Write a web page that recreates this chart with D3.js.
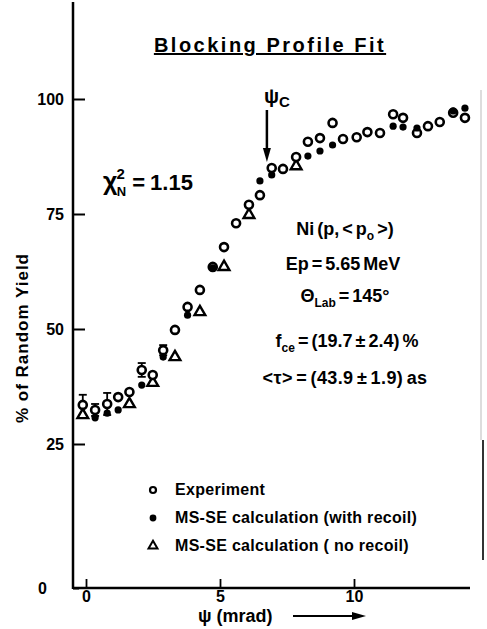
<!DOCTYPE html>
<html>
<head>
<meta charset="utf-8">
<script src="https://cdn.jsdelivr.net/npm/d3@7"></script>
<style>
  body { margin: 0; background: #fff; }
  svg { display: block; }
  text { font-family: "Liberation Sans", Arial, sans-serif; font-weight: bold; fill: #000; }
</style>
</head>
<body>
<svg id="chart" width="487" height="629"></svg>
<script>
// values
let expPsi   = [-0.12,0.34,0.79,1.2,1.62,2.08,2.49,2.88,3.32,3.79,4.25,4.73,5.15,5.6,6.08,6.49,6.93,7.35,7.84,8.28,8.73,9.2,9.59,10.1,10.5,10.97,11.46,11.83,12.35,12.76,13.2,13.7,14.14]
let expYield = [33.5,32.4,33.7,35.2,36.3,41.1,40.0,45.4,49.8,54.8,58.5,63.5,67.8,73.0,77.0,79.1,85.0,84.8,87.4,90.7,91.5,94.8,91.3,91.7,92.8,92.6,96.7,95.9,92.6,94.1,95.0,97.0,95.9]
let expErr   = [2.2,1.3,2.4,0,0,1.5,0,1.1,0,0,0,0,0,0,0,0,0,0,0,0,0,0,0,0,0,0,0,0,0,0,0,0,0]

let withPsi   = [0.34,0.79,1.2,2.08,2.88,3.79,4.73,6.49,6.93,8.28,8.73,9.2,11.46,11.83,12.35,13.7,14.14]
let withYield = [30.7,31.7,32.4,37.8,43.9,53.0,63.3,82.2,83.5,87.6,88.7,90.0,94.1,93.9,93.7,97.4,98.0]

let noPsi   = [-0.12,1.62,2.49,3.32,4.25,5.15,6.08,7.84]
let noYield = [31.3,33.7,38.3,43.9,53.7,63.5,74.8,85.4]

let psiC = 6.75
let yTicks = [0, 25, 50, 75, 100]
let xTicks = [0, 5, 10]

let svg = d3.select("#chart")

// y axis has a squeezed bottom (0 sits lower than linear)
let y = d3.scaleLinear().domain([0, 25, 100]).range([588, 444, 99])
let x = d3.scaleLinear().domain([0, 10]).range([86, 354])

// axis lines
svg.append("line").attr("x1", 73).attr("x2", 73).attr("y1", 2).attr("y2", y(0) + 1)
  .attr("stroke", "#000").attr("stroke-width", 2.5)
svg.append("line").attr("x1", 73).attr("x2", 470).attr("y1", y(0)).attr("y2", y(0))
  .attr("stroke", "#000").attr("stroke-width", 2.5)

let yAxis = svg.append("g").attr("transform", "translate(73,0)")
  .call(d3.axisLeft(y).tickValues(yTicks).tickSize(-12).tickPadding(9).tickFormat(d3.format("d")))
yAxis.select(".domain").remove()
yAxis.selectAll("line").attr("stroke-width", 2)
yAxis.selectAll("text").style("font-size", "16px")
// the zero label sits further out
yAxis.selectAll(".tick").filter(d => d == 0).select("text").attr("x", -26)
yAxis.selectAll(".tick").filter(d => d == 0).select("line").attr("x2", 6)

let xAxis = svg.append("g").attr("transform", "translate(0," + y(0) + ")")
  .call(d3.axisBottom(x).tickValues(xTicks).tickSize(-9).tickPadding(3).tickFormat(d3.format("d")))
xAxis.select(".domain").remove()
xAxis.selectAll("line").attr("stroke-width", 1.8)
xAxis.selectAll("text").style("font-size", "16px")

// faint scan edge on the right
svg.append("line").attr("x1", 481).attr("x2", 481).attr("y1", 90).attr("y2", 440)
  .attr("stroke", "#ddd").attr("stroke-width", 2)
svg.append("line").attr("x1", 483).attr("x2", 483).attr("y1", 440).attr("y2", 560)
  .attr("stroke", "#333").attr("stroke-width", 2)

// error bars
let eb = svg.append("g").attr("stroke", "#000").attr("stroke-width", 1.8)
expPsi.forEach(function(p, i){
  if(expErr[i] > 0){
    let cx = x(p)
    eb.append("line").attr("x1", cx).attr("x2", cx).attr("y1", y(expYield[i] + expErr[i])).attr("y2", y(expYield[i] - expErr[i]))
    eb.append("line").attr("x1", cx - 4).attr("x2", cx + 4).attr("y1", y(expYield[i] + expErr[i])).attr("y2", y(expYield[i] + expErr[i]))
    eb.append("line").attr("x1", cx - 4).attr("x2", cx + 4).attr("y1", y(expYield[i] - expErr[i])).attr("y2", y(expYield[i] - expErr[i]))
  }
})

// no recoil triangles
let tri = d3.symbol().type(d3.symbolTriangle).size(50)
svg.append("g").selectAll("path").data(noPsi).join("path")
  .attr("d", tri)
  .attr("transform", (d, i) => "translate(" + x(d) + "," + y(noYield[i]) + ")")
  .attr("fill", "#fff").attr("stroke", "#000").attr("stroke-width", 2.4)

// experiment open circles
svg.append("g").selectAll("circle").data(expPsi).join("circle")
  .attr("cx", d => x(d)).attr("cy", (d, i) => y(expYield[i])).attr("r", 4)
  .attr("fill", "#fff").attr("stroke", "#000").attr("stroke-width", 2.6)

// with recoil filled dots
svg.append("g").selectAll("circle").data(withPsi).join("circle")
  .attr("cx", d => x(d)).attr("cy", (d, i) => y(withYield[i])).attr("r", 3.6)
  .attr("fill", "#000")

// psi_c arrow
let ax = x(psiC)
svg.append("line").attr("x1", ax).attr("x2", ax).attr("y1", 110).attr("y2", 150)
  .attr("stroke", "#000").attr("stroke-width", 2.5)
svg.append("path").attr("d", "M" + (ax - 4) + ",148 L" + (ax + 4) + ",148 L" + ax + ",162 Z").attr("fill", "#000")
let pc = svg.append("text").attr("x", ax - 3).attr("y", 103).style("font-size", "20px")
pc.append("tspan").text("ψ")
pc.append("tspan").attr("dy", 4).style("font-size", "15px").text("C")

// title
svg.append("text").attr("x", 270).attr("y", 52).attr("text-anchor", "middle")
  .style("font-size", "20px").style("letter-spacing", "2.5px").style("text-decoration", "underline")
  .text("Blocking Profile Fit")

// y label
svg.append("text").attr("transform", "translate(28,338) rotate(-90)").attr("text-anchor", "middle")
  .style("font-size", "17px").style("letter-spacing", "1px")
  .text("% of Random Yield")

// x label
svg.append("text").attr("x", 198).attr("y", 622).style("font-size", "18px").text("ψ (mrad)")
svg.append("line").attr("x1", 293).attr("x2", 355).attr("y1", 616).attr("y2", 616)
  .attr("stroke", "#000").attr("stroke-width", 2)
svg.append("path").attr("d", "M352,612 L366,616 L352,620 Z").attr("fill", "#000")

// chi square
let chi = svg.append("text").attr("x", 103).attr("y", 190).style("font-size", "22px")
chi.append("tspan").style("font-size", "25px").text("χ")
chi.append("tspan").attr("dx", -1).attr("dy", -11).style("font-size", "15px").text("2")
chi.append("tspan").attr("dx", -8).attr("dy", 17).style("font-size", "13px").text("N")
chi.append("tspan").attr("dx", 6).attr("dy", -6).style("word-spacing", "-1px").text("= 1.15")

// parameter block
let block = svg.append("g").style("font-size", "18px").style("word-spacing", "-2px")
let ni = block.append("text").attr("x", 345).attr("y", 235).attr("text-anchor", "middle")
ni.append("tspan").text("Ni (p, < p")
ni.append("tspan").attr("dy", 5).style("font-size", "12px").text("o")
ni.append("tspan").attr("dy", -5).text(" >)")

block.append("text").attr("x", 343).attr("y", 270).attr("text-anchor", "middle")
  .text("Ep = 5.65 MeV")

let th = block.append("text").attr("x", 345).attr("y", 302).attr("text-anchor", "middle")
th.append("tspan").text("Θ")
th.append("tspan").attr("dy", 5).style("font-size", "12px").text("Lab")
th.append("tspan").attr("dy", -5).text(" = 145°")

let fc = block.append("text").attr("x", 347).attr("y", 347).attr("text-anchor", "middle")
fc.append("tspan").text("f")
fc.append("tspan").attr("dy", 5).style("font-size", "12px").text("ce")
fc.append("tspan").attr("dy", -5).text(" = (19.7 ± 2.4) %")

block.append("text").attr("x", 345).attr("y", 384).attr("text-anchor", "middle")
  .style("letter-spacing", "0.4px")
  .text("<τ> = (43.9 ± 1.9) as")

// legend
let legendY = [495, 523, 551]
let legendText = ["Experiment", "MS-SE calculation  (with recoil)", "MS-SE calculation  ( no recoil)"]
let lg = svg.append("g")
lg.append("circle").attr("cx", 153).attr("cy", legendY[0] - 5).attr("r", 3)
  .attr("fill", "#fff").attr("stroke", "#000").attr("stroke-width", 2.2)
lg.append("circle").attr("cx", 153).attr("cy", legendY[1] - 5).attr("r", 3.4).attr("fill", "#000")
lg.append("path").attr("d", d3.symbol().type(d3.symbolTriangle).size(35))
  .attr("transform", "translate(153," + (legendY[2] - 5) + ")")
  .attr("fill", "#fff").attr("stroke", "#000").attr("stroke-width", 2)
lg.selectAll("text").data(legendText).join("text")
  .attr("x", 175).attr("y", (d, i) => legendY[i])
  .style("font-size", "16px").style("letter-spacing", "0.3px")
  .text(d => d)
</script>
</body>
</html>
